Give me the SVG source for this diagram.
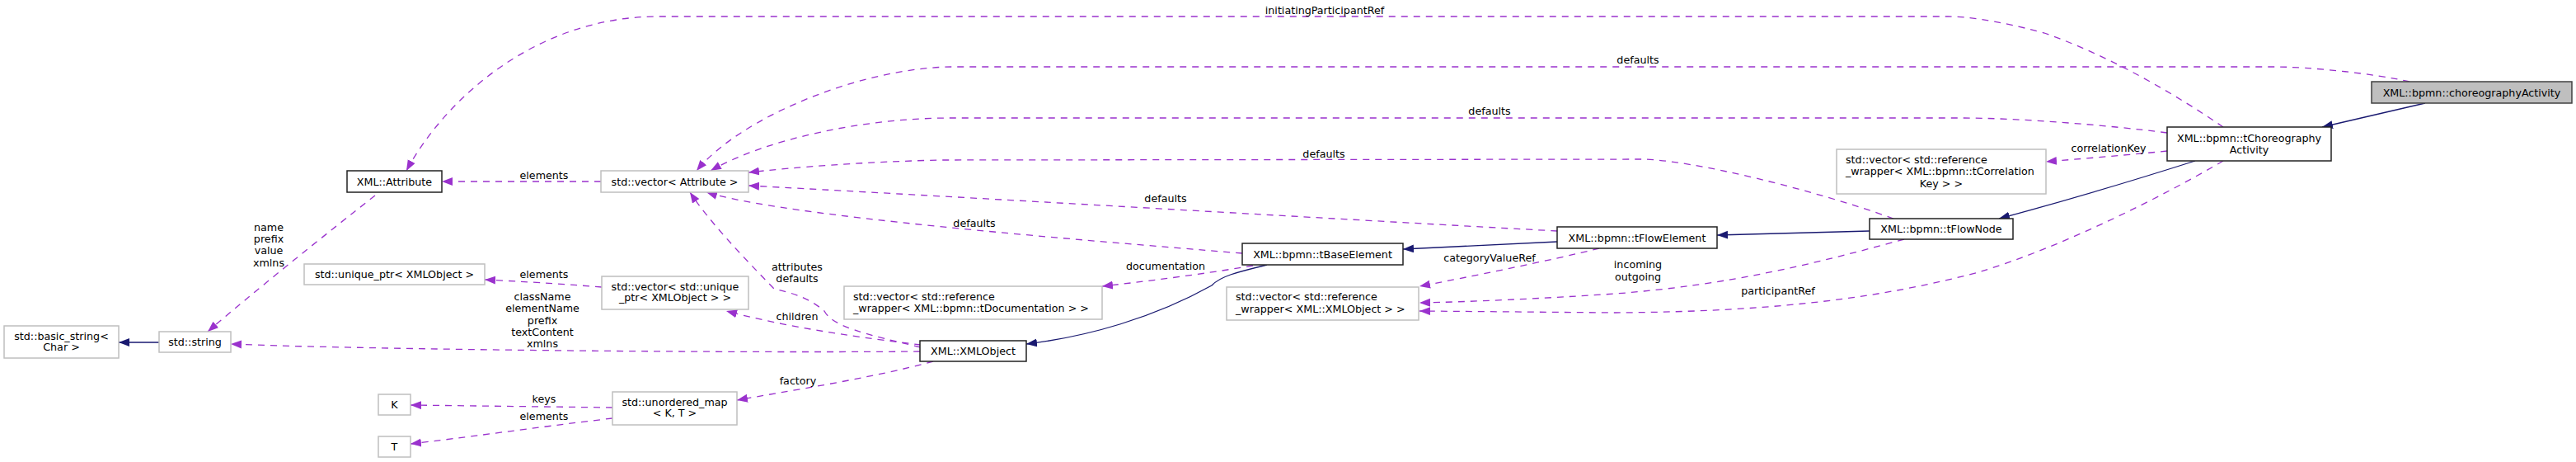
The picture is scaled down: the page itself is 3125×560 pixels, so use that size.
<svg xmlns="http://www.w3.org/2000/svg" width="3125" height="560" viewBox="0 0 3125 560">
<style>
text{font-family:"DejaVu Sans","Liberation Sans",sans-serif;font-size:12.7px;fill:#000}
.c{text-anchor:middle}
.l{text-anchor:start}
.n{fill:#fff;stroke:#222;stroke-width:1.5}
.u{fill:#fff;stroke:#bfbfbf;stroke-width:1.5}
.f{fill:#bfbfbf;stroke:#404040;stroke-width:1.5}
.e{fill:none;stroke:#9a32cd;stroke-width:1.3;stroke-dasharray:8,7;marker-end:url(#ap)}
.i{fill:none;stroke:#191970;stroke-width:1.3;marker-end:url(#an)}
</style>
<defs>
<marker id="ap" markerUnits="userSpaceOnUse" markerWidth="14" markerHeight="11" refX="13" refY="5" orient="auto"><path d="M0,0 L13,5 L0,10 z" fill="#9a32cd"/></marker>
<marker id="an" markerUnits="userSpaceOnUse" markerWidth="14" markerHeight="11" refX="13" refY="5" orient="auto"><path d="M0,0 L13,5 L0,10 z" fill="#191970"/></marker>
</defs>
<rect width="3125" height="560" fill="#fff"/>
<g id="edges">
<path class="e" d="M2697,154 C2640,115 2560,68 2480,40 C2420,24 2385,20 2363,20 L799,20 C650,20 540,120 493,207"/>
<text class="c" x="1607" y="16.5">initiatingParticipantRef</text>
<path class="e" d="M2923,99 C2880,89 2800,81 2760,81 L1157,81 C1050,81 900,140 845,207"/>
<text class="c" x="1987" y="76.5">defaults</text>
<path class="e" d="M2629,161 C2560,152 2450,143 2380,143 L1153,143 C1050,143 930,168 862,207"/>
<text class="c" x="1807" y="138.5">defaults</text>
<path class="e" d="M2297,265 C2200,230 2050,193 1990,193 L1140,194 C1050,196 960,203 908,209"/>
<text class="c" x="1606" y="190.5">defaults</text>
<path class="e" d="M1889,280 C1700,270 1100,235 908,225"/>
<text class="c" x="1414" y="244.5">defaults</text>
<path class="e" d="M1507,307 C1300,290 950,262 857,233"/>
<text class="c" x="1182" y="274.5">defaults</text>
<path class="e" d="M1117,421 C1050,405 1010,396 1000,377 C980,360 960,355 939,350 C900,310 860,268 837,233"/>
<text class="c" x="967" y="327.5">attributes</text>
<text class="c" x="967" y="341.5">defaults</text>
<path class="e" d="M1117,418 C1050,410 960,398 881,377"/>
<text class="c" x="967" y="387.5">children</text>
<path class="e" d="M1116,426 C900,428 450,424 280,417"/>
<text class="c" x="658" y="363.5">className</text>
<text class="c" x="658" y="377.5">elementName</text>
<text class="c" x="658" y="392.5">prefix</text>
<text class="c" x="658" y="406.5">textContent</text>
<text class="c" x="658" y="420.5">xmlns</text>
<path class="e" d="M1132,438 C1060,458 950,475 894,485"/>
<text class="c" x="968" y="465.5">factory</text>
<path class="e" d="M730,348 C680,344 630,341 588,339"/>
<text class="c" x="660" y="336.5">elements</text>
<path class="e" d="M743,494 L498,491"/>
<text class="c" x="660" y="487.5">keys</text>
<path class="e" d="M743,507 C650,518 560,531 498,538"/>
<text class="c" x="660" y="508.5">elements</text>
<path class="e" d="M729,220 L536,220"/>
<text class="c" x="660" y="216.5">elements</text>
<path class="e" d="M455,237 C400,280 300,360 252,402"/>
<text class="c" x="326" y="279.5">name</text>
<text class="c" x="326" y="293.5">prefix</text>
<text class="c" x="326" y="307.5">value</text>
<text class="c" x="326" y="322.5">xmlns</text>
<path class="e" d="M1520,322 C1460,332 1400,340 1337,347"/>
<text class="c" x="1414" y="326.5">documentation</text>
<path class="e" d="M1940,301 C1880,316 1780,336 1722,347"/>
<text class="c" x="1807" y="316.5">categoryValueRef</text>
<path class="e" d="M2310,290 C2200,320 2100,345 1960,356 C1870,362 1780,366 1722,367"/>
<text class="c" x="1987" y="324.5">incoming</text>
<text class="c" x="1987" y="339.5">outgoing</text>
<path class="e" d="M2697,195 C2620,240 2500,300 2400,330 C2250,370 2100,378 1960,379 L1722,377"/>
<text class="c" x="2157" y="356.5">participantRef</text>
<path class="e" d="M2629,183 C2580,188 2530,192 2482,196"/>
<text class="c" x="2558" y="183.5">correlationKey</text>
<path class="i" d="M2942,125 L2817,154"/>
<path class="i" d="M2663,195 C2600,215 2500,245 2425,265"/>
<path class="i" d="M2268,280 L2083,285"/>
<path class="i" d="M1889,293 L1702,302"/>
<path class="i" d="M1537,321 C1500,330 1480,335 1470,346 C1400,385 1320,408 1245,417"/>
<path class="i" d="M193,415 L144,415"/>
</g>
<g id="node-choreographyActivity"><rect class="f" x="2877" y="99" width="243" height="26"/><text class="c" x="2998.5" y="116.5">XML::bpmn::choreographyActivity</text></g>
<g id="node-tChoreographyActivity"><rect class="n" x="2629" y="154" width="199" height="41"/><text class="c" x="2728.5" y="171.5">XML::bpmn::tChoreography</text><text class="c" x="2728.5" y="185.5">Activity</text></g>
<g id="node-correlationKeyVector"><rect class="u" x="2228" y="181" width="254" height="54"/><text class="l" x="2239" y="197.5">std::vector&lt; std::reference</text><text class="l" x="2239" y="211.5">_wrapper&lt; XML::bpmn::tCorrelation</text><text class="c" x="2355" y="226.5">Key &gt; &gt;</text></g>
<g id="node-tFlowNode"><rect class="n" x="2268" y="265" width="174" height="25"/><text class="c" x="2355" y="282">XML::bpmn::tFlowNode</text></g>
<g id="node-tFlowElement"><rect class="n" x="1889" y="275" width="194" height="26"/><text class="c" x="1986" y="292.5">XML::bpmn::tFlowElement</text></g>
<g id="node-tBaseElement"><rect class="n" x="1507" y="295" width="195" height="26"/><text class="c" x="1604.5" y="312.5">XML::bpmn::tBaseElement</text></g>
<g id="node-xmlObjectRefVector"><rect class="u" x="1488" y="348" width="233" height="40"/><text class="l" x="1499" y="363.5">std::vector&lt; std::reference</text><text class="l" x="1499" y="378.5">_wrapper&lt; XML::XMLObject &gt; &gt;</text></g>
<g id="node-documentationVector"><rect class="u" x="1024" y="347" width="313" height="40"/><text class="l" x="1035" y="363.5">std::vector&lt; std::reference</text><text class="l" x="1035" y="377.5">_wrapper&lt; XML::bpmn::tDocumentation &gt; &gt;</text></g>
<g id="node-XMLObject"><rect class="n" x="1116" y="413" width="129" height="25"/><text class="c" x="1180.5" y="429.5">XML::XMLObject</text></g>
<g id="node-attributeVector"><rect class="u" x="729" y="207" width="179" height="26"/><text class="c" x="818.5" y="224.5">std::vector&lt; Attribute &gt;</text></g>
<g id="node-Attribute"><rect class="n" x="421" y="207" width="115" height="26"/><text class="c" x="478.5" y="224.5">XML::Attribute</text></g>
<g id="node-uniquePtrVector"><rect class="u" x="730" y="335" width="178" height="40"/><text class="c" x="819" y="351.5">std::vector&lt; std::unique</text><text class="c" x="819" y="364.5">_ptr&lt; XMLObject &gt; &gt;</text></g>
<g id="node-uniquePtr"><rect class="u" x="369" y="320" width="219" height="25"/><text class="c" x="478.5" y="337">std::unique_ptr&lt; XMLObject &gt;</text></g>
<g id="node-string"><rect class="u" x="193" y="402" width="87" height="25"/><text class="c" x="236.5" y="419">std::string</text></g>
<g id="node-basicString"><rect class="u" x="5" y="395" width="139" height="39"/><text class="c" x="74.5" y="411.5">std::basic_string&lt;</text><text class="c" x="74.5" y="424.5">Char &gt;</text></g>
<g id="node-unorderedMap"><rect class="u" x="743" y="475" width="151" height="40"/><text class="c" x="818.5" y="491.5">std::unordered_map</text><text class="c" x="818.5" y="504.5">&lt; K, T &gt;</text></g>
<g id="node-K"><rect class="u" x="459" y="478" width="39" height="25"/><text class="c" x="478.5" y="495">K</text></g>
<g id="node-T"><rect class="u" x="459" y="529" width="39" height="25"/><text class="c" x="478.5" y="546">T</text></g>
</svg>
